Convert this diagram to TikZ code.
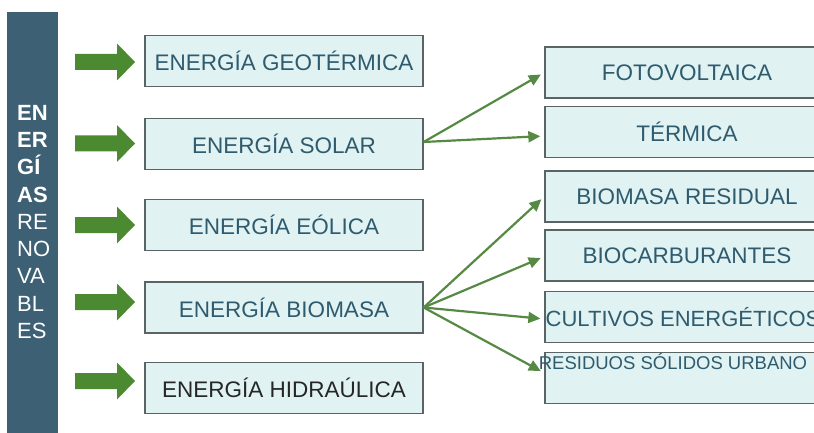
\documentclass[tikz,border=0pt]{standalone}
\usepackage{fontspec}
\setmainfont{Liberation Sans}
\usetikzlibrary{arrows.meta}
\definecolor{barblue}{HTML}{3E6074}
\definecolor{boxfill}{HTML}{E0F2F2}
\definecolor{boxline}{HTML}{5A6464}
\definecolor{txtblue}{HTML}{2F5B6F}
\definecolor{bigarrow}{HTML}{4B8A30}
\definecolor{thinarrow}{HTML}{568A44}
\tikzset{
  ebox/.style={draw=boxline, line width=1.3pt, fill=boxfill, inner sep=0pt,
    minimum height=51pt, text=txtblue, font=\fontsize{22.5}{26}\selectfont},
  lbox/.style={ebox, minimum width=278pt},
  rbox/.style={ebox, minimum width=284pt},
  link/.style={draw=thinarrow, line width=2.2pt, shorten >=4pt,
    -{Triangle[length=12pt,width=11pt]}},
}
\begin{document}
\begin{tikzpicture}[x=1pt,y=1pt]
\useasboundingbox (0,0) rectangle (814,-433);
\clip (0,0) rectangle (814,-433);
\fill[white] (0,0) rectangle (814,-433);
% left bar
\fill[barblue] (7,-12) rectangle (58,-440);
\node[anchor=north west, text=white, align=left, inner sep=0pt,
  font=\fontsize{22}{27.25}\selectfont] (bartext) at (17,-105)
  {\textbf{EN}\\\textbf{ER}\\\textbf{GÍ}\\\textbf{AS}\\RE\\NO\\VA\\BL\\ES};
% block arrows
\foreach \yy in {62,143.5,225,302,381}{
  \fill[bigarrow] (75,-\yy+8) -- (117,-\yy+8) -- (117,-\yy+18.5) -- (135,-\yy)
    -- (117,-\yy-18.5) -- (117,-\yy-8) -- (75,-\yy-8) -- cycle;
}
% left boxes
\node[lbox] (geo) at (284,-61) {ENERGÍA GEOTÉRMICA};
\node[lbox] (sol) at (284,-144) {ENERGÍA SOLAR};
\node[lbox] (eol) at (284,-225) {ENERGÍA EÓLICA};
\node[lbox] (bio) at (284,-307.5) {ENERGÍA BIOMASA};
\node[lbox, text=black!85] (hid) at (284,-388) {ENERGÍA HIDRAÚLICA};
% right boxes
\node[rbox] (foto) at (687,-72.5) {FOTOVOLTAICA};
\node[rbox] (ter) at (687,-132) {TÉRMICA};
\node[rbox] (bres) at (687,-196.5) {BIOMASA RESIDUAL};
\node[rbox] (bcar) at (687,-255.5) {BIOCARBURANTES};
\node[rbox, font=\fontsize{22}{26}\selectfont] (cult) at (687,-317)
  {\hspace*{-8pt}CULTIVOS ENERGÉTICOS};
\node[rbox] (rsu) at (687,-378) {};
\node[text=txtblue, inner sep=0pt, font=\fontsize{18.5}{20}\selectfont] (rsutext)
  at (673,-362) {RESIDUOS SÓLIDOS URBANO};
% connectors
\draw[link] ([yshift=2pt]sol.east) -- ([yshift=0pt]foto.west);
\draw[link] ([yshift=2pt]sol.east) -- ([yshift=-4pt]ter.west);
\draw[link] (bio.east) -- (bres.west);
\draw[link] (bio.east) -- ([yshift=-1pt]bcar.west);
\draw[link] (bio.east) -- ([yshift=-2pt]cult.west);
\draw[link] (bio.east) -- ([yshift=5pt]rsu.west);
\end{tikzpicture}
\end{document}
